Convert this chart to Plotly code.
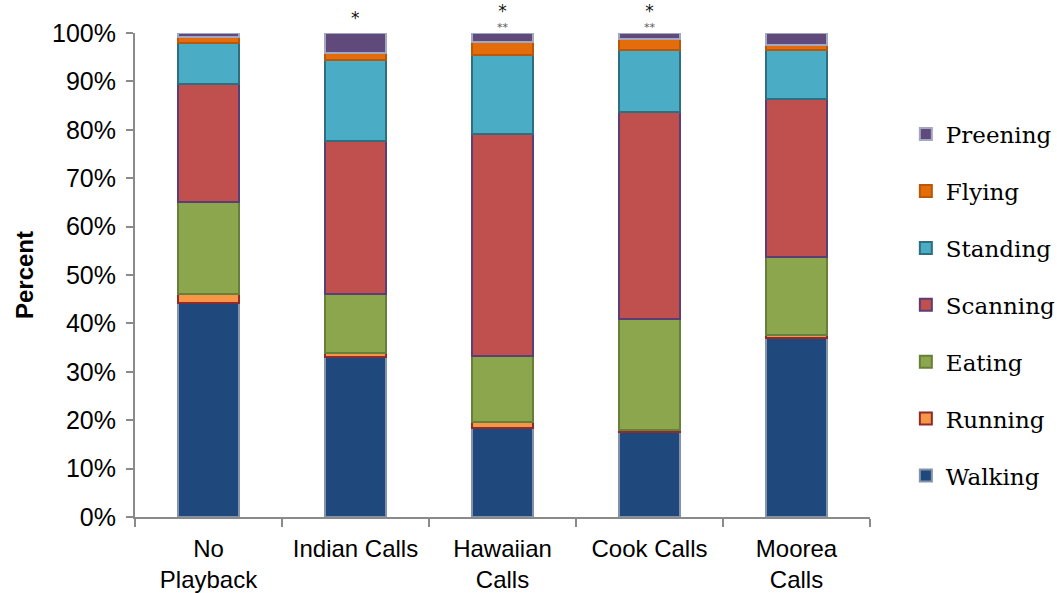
import plotly.graph_objects as go

# Behaviour budget (% of observation time) per playback treatment
categories = ["No Playback", "Indian Calls", "Hawaiian Calls", "Cook Calls", "Moorea Calls"]
tick_labels = ["No<br>Playback", "Indian Calls", "Hawaiian<br>Calls", "Cook Calls", "Moorea<br>Calls"]

walking = [44.2, 33.1, 18.3, 17.5, 37.0]
running = [1.8, 0.8, 1.4, 0.5, 0.6]
eating = [19.1, 12.1, 13.6, 23.0, 16.1]
scanning = [24.4, 31.7, 45.8, 42.7, 32.7]
standing = [8.5, 16.8, 16.4, 12.8, 10.1]
flying = [1.2, 1.3, 2.6, 2.3, 1.0]
preening = [0.8, 4.2, 1.9, 1.2, 2.5]

# Significance markers above the bars
sig_single = ["", "*", "*", "*", ""]
sig_double = ["", "", "**", "**", ""]

series = [
    ("Walking", walking, "#1F497D", "#8593AA"),
    ("Running", running, "#F79646", "#8E2B2B"),
    ("Eating", eating, "#8BA64C", "#66803A"),
    ("Scanning", scanning, "#C0504D", "#5B3E75"),
    ("Standing", standing, "#4BACC6", "#2D6E80"),
    ("Flying", flying, "#E46C0A", "#B9580B"),
    ("Preening", preening, "#604A7B", "#A2A7C2"),
]

fig = go.Figure()
for i, (name, vals, fill, edge) in enumerate(series):
    fig.add_trace(go.Bar(
        x=categories, y=vals, name=name, legendgroup=name,
        legendrank=len(series) - i,
        marker=dict(color=fill, line=dict(color=edge, width=2)),
    ))

totals = [sum(v) for v in zip(*[s[1] for s in series])]
for cat, s1, s2, top in zip(categories, sig_single, sig_double, totals):
    if not s1:
        continue
    big = "<span style='font-size:17px;color:#111'>" + s1 + "</span>"
    if s2:
        text, shift = big + "<br>" + s2, -3
    else:
        text, shift = big, 3
    fig.add_annotation(
        x=cat, y=top, yref="y", text=text, showarrow=False,
        yanchor="bottom", yshift=shift,
        font=dict(family="DejaVu Sans", size=11, color="#555"),
    )

fig.update_layout(
    width=1057, height=593,
    margin=dict(l=135, r=187, t=33, b=76),
    paper_bgcolor="white", plot_bgcolor="white",
    barmode="stack", bargap=0.58,
    font=dict(family="Liberation Sans, Arial", size=24, color="#000"),
    legend=dict(
        traceorder="grouped", tracegroupgap=24,
        xref="container", yref="container",
        x=0.857, xanchor="left", y=0.81, yanchor="top",
        maxheight=560,
        font=dict(family="DejaVu Serif, serif", size=23, color="#000"),
        itemwidth=30,
    ),
    showlegend=True,
)

fig.update_xaxes(
    tickvals=categories, ticktext=tick_labels, automargin=False,
    showline=True, linecolor="#8a8a8a", linewidth=2,
    ticks="outside", tickson="boundaries", ticklen=8, tickcolor="#8a8a8a", tickwidth=2,
    ticklabelstandoff=9,
    showgrid=False, tickfont=dict(size=24),
)
fig.update_yaxes(
    range=[0, 100], dtick=10, ticksuffix="%", automargin=False,
    showline=True, linecolor="#8a8a8a", linewidth=2,
    ticks="outside", ticklen=7, tickcolor="#8a8a8a", tickwidth=2,
    ticklabelstandoff=5,
    showgrid=False, zeroline=False, tickfont=dict(size=25),
    title=dict(text="<b>Percent</b>", font=dict(size=24), standoff=12),
)

fig.write_html("out.html")
